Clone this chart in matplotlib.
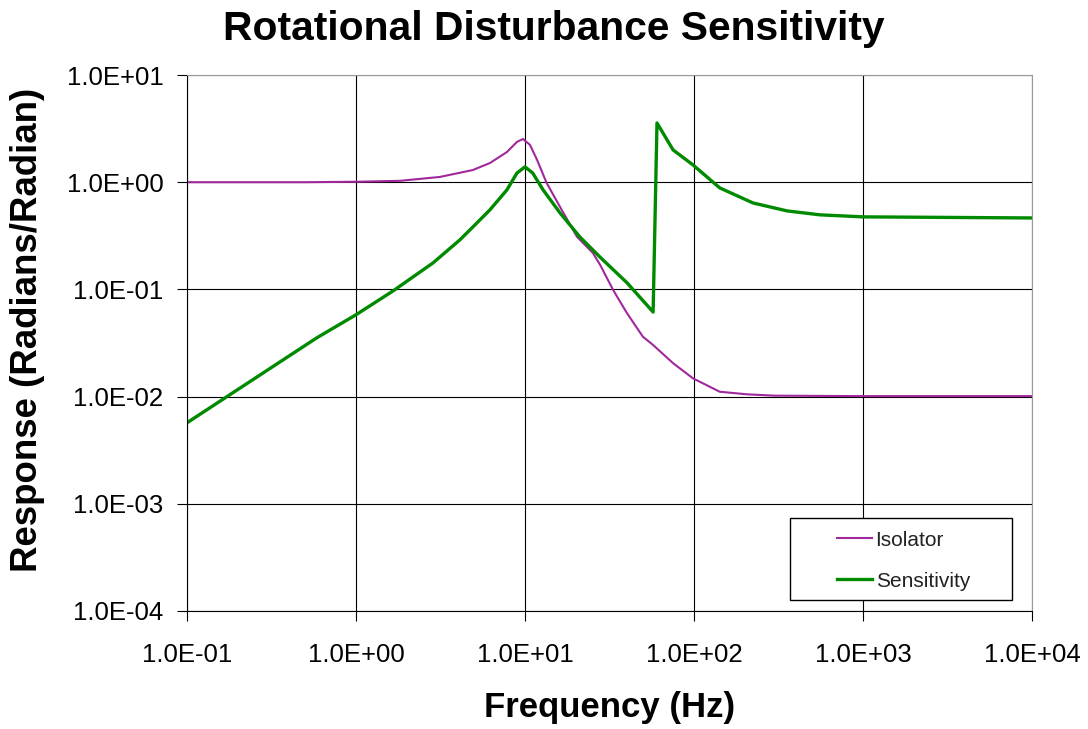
import matplotlib
matplotlib.use('Agg')
import matplotlib.pyplot as plt
from matplotlib.patches import Rectangle
from matplotlib.ticker import FixedLocator, FuncFormatter, NullLocator

plt.rcParams['font.family'] = ['Liberation Sans', 'DejaVu Sans']

# valores
freq_iso = [0.1, 0.5, 1.0, 1.82, 3.14, 4.92, 6.2, 7.81, 8.97, 9.73, 10.7, 11.8, 13.4, 16.1,
            20.3, 25.2, 27.8, 33.2, 40.0, 49.9, 57.0, 75.2, 98.6, 142, 206, 300, 1000, 10000]
resp_iso = [1.0, 1.0, 1.01, 1.03, 1.12, 1.30, 1.51, 1.91, 2.38, 2.53, 2.23, 1.61, 0.99, 0.59,
            0.31, 0.219, 0.17, 0.099, 0.0605, 0.0361, 0.0305, 0.0205, 0.0148, 0.0111, 0.0105,
            0.0102, 0.0101, 0.0101]

freq_sen = [0.1, 0.587, 1.0, 1.66, 2.86, 4.12, 4.92, 6.2, 7.81, 8.97, 10.0, 11.1, 12.8, 16.1,
            21.1, 27.8, 40.2, 57.3, 60.4, 75.2, 98.6, 142, 223, 355, 557, 1000, 10000]
resp_sen = [0.0057, 0.0354, 0.058, 0.097, 0.177, 0.29, 0.383, 0.552, 0.847, 1.22, 1.39, 1.22,
            0.847, 0.518, 0.309, 0.20, 0.115, 0.0615, 3.57, 2.0, 1.45, 0.885, 0.641, 0.54, 0.496,
            0.475, 0.464]

xticks = [1e-1, 1e0, 1e1, 1e2, 1e3, 1e4]
yticks = [1e-4, 1e-3, 1e-2, 1e-1, 1e0, 1e1]


def fmt_e(v, pos):
    s = '%.1E' % v
    mant, exp = s.split('E')
    return mant + 'E' + exp[0] + exp[1:].zfill(2)


fig = plt.figure(figsize=(10.88, 7.29), dpi=100)
ax = fig.add_axes([0.1719, 0.1619, 0.9485 - 0.1719, 0.8971 - 0.1619])

ax.plot(freq_iso, resp_iso, color='#a0289c', lw=1.5, label='Isolator')
ax.plot(freq_sen, resp_sen, color='#008a00', lw=2.4, label='Sensitivity')

ax.set_xscale('log')
ax.set_yscale('log')
ax.set_xlim(1e-1, 1e4)
ax.set_ylim(1e-4, 1e1)
ax.xaxis.set_major_locator(FixedLocator(xticks))
ax.yaxis.set_major_locator(FixedLocator(yticks))
ax.xaxis.set_minor_locator(NullLocator())
ax.yaxis.set_minor_locator(NullLocator())
ax.xaxis.set_major_formatter(FuncFormatter(fmt_e))
ax.yaxis.set_major_formatter(FuncFormatter(fmt_e))
ax.tick_params(axis='x', labelsize=18.5, direction='out', length=7, width=0.8, pad=16)
ax.tick_params(axis='y', labelsize=18.5, direction='out', length=7, width=0.8, pad=10)

ax.grid(True, color='black', lw=0.8)
ax.set_axisbelow(True)
for side in ['top', 'right']:
    ax.spines[side].set_color('#999999')
for side in ['left', 'bottom']:
    ax.spines[side].set_color('black')

fig.text(0.509, 1 - 29 / 729, 'Rotational Disturbance Sensitivity', fontsize=29.3,
         fontweight='bold', ha='center', va='center')
ax.set_xlabel('Frequency (Hz)', fontsize=25, fontweight='bold', va='center')
ax.xaxis.set_label_coords(0.5, -0.181)
ax.set_ylabel('Response (Radians/Radian)', fontsize=26.4, fontweight='bold', va='center')
ax.yaxis.set_label_coords(-0.189, 0.524)

# caja de la leyenda
box = Rectangle((0.7136, 0.0205), 0.976 - 0.7136, 0.1735 - 0.0205, transform=ax.transAxes,
                facecolor='white', edgecolor='black', lw=1.0, zorder=4)
ax.add_patch(box)
leg = ax.legend(loc='center', bbox_to_anchor=(0.848, 0.094), fontsize=15,
                frameon=False, handlelength=1.7, handletextpad=0.15, labelspacing=1.05,
                borderaxespad=0, borderpad=0)
leg.set_zorder(5)
for t in leg.get_texts():
    t.set_color('#222222')

fig.savefig('out.png', dpi=100)
